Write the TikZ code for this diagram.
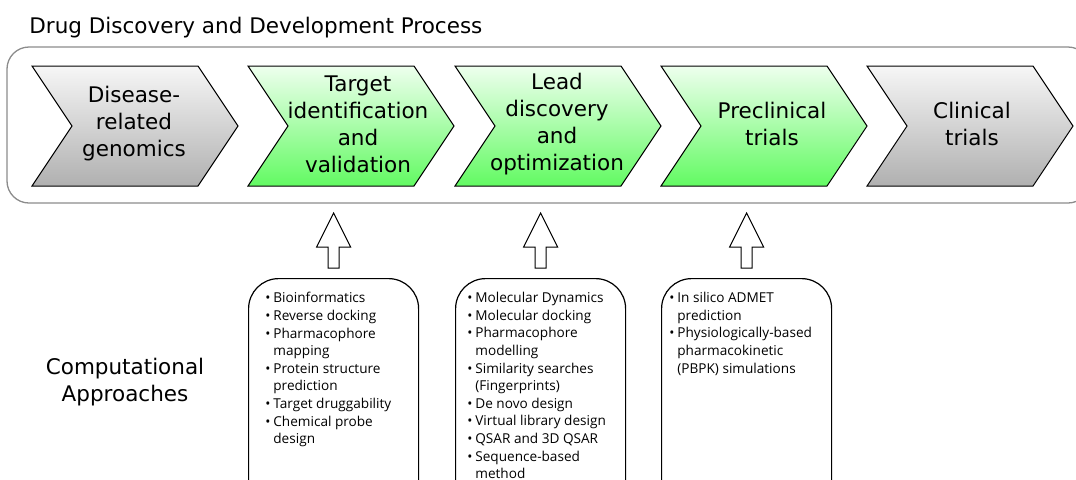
\documentclass[tikz,border=0pt]{standalone}
\usepackage{fontspec}
\setmainfont{DejaVu Sans}
\newfontfamily\apprfont{Open Sans}
\usetikzlibrary{calc}

\definecolor{greentop}{RGB}{238,255,238}
\definecolor{greenbot}{RGB}{98,250,98}
\definecolor{graytop}{RGB}{246,246,246}
\definecolor{graybot}{RGB}{176,176,176}
\definecolor{framegray}{RGB}{140,140,140}

\tikzset{
  stage/.style={draw=black, line width=0.5pt},
  greenstage/.style={stage, top color=greentop, bottom color=greenbot},
  graystage/.style={stage, top color=graytop, bottom color=graybot},
  bigtext/.style={align=center, inner sep=0pt, font=\fontsize{10.75}{13.5}\selectfont},
  apprbox/.style={draw=black, line width=0.6pt, rounded corners=15pt,
    anchor=north west, minimum width=85pt, minimum height=121pt},
  apprtext/.style={align=left, inner sep=0pt, anchor=north west,
    font=\apprfont\fontsize{6.8}{8.8}\selectfont},
  blockarrow/.style={draw=black, line width=0.5pt, fill=white},
}
\newcommand{\bul}{\llap{•\hspace{1.5pt}}}

\begin{document}
\begin{tikzpicture}[x=0.5pt, y=-0.5pt]
  \useasboundingbox (0,0) rectangle (1076,479);

  % process band
  \node[bigtext, anchor=base west] (title) at (29,33) {Drug Discovery and Development Process};
  \draw[framegray, line width=0.65pt, rounded corners=11pt] (7,47) rectangle (1090,203);

  \foreach \x/\s in {32/graystage, 248/greenstage, 455/greenstage, 661/greenstage, 867/graystage}
    \path[\s] (\x,66) -- ++(166,0) -- ++(40,60) -- ++(-40,60) -- ++(-166,0) -- ++(40,-60) -- cycle;

  \node[bigtext] (disease) at (134,124) {Disease-\\related\\genomics};
  \node[bigtext] (target) at (358,124) {Target\\identification\\and\\validation};
  \node[bigtext] (lead) at (557,124) {Lead\\discovery\\and\\optimization};
  \node[bigtext] (preclinical) at (772,124) {Preclinical\\trials};
  \node[bigtext] (clinical) at (972,124) {Clinical\\trials};

  % computational approaches
  \node[bigtext, anchor=north] (comp) at (125,358) {Computational\\Approaches};

  \node[apprbox] (tbox) at (248,278) {};
  \node[apprbox] (lbox) at (455,278) {};
  \node[apprbox] (pbox) at (661,278) {};

  \node[apprtext] (ttext) at (273,292) {\bul Bioinformatics\\\bul Reverse docking\\\bul Pharmacophore\\mapping\\\bul Protein structure\\prediction\\\bul Target druggability\\\bul Chemical probe\\design};
  \node[apprtext] (ltext) at (475,292) {\bul Molecular Dynamics\\\bul Molecular docking\\\bul Pharmacophore\\modelling\\\bul Similarity searches\\(Fingerprints)\\\bul De novo design\\\bul Virtual library design\\\bul QSAR and 3D QSAR\\\bul Sequence-based\\method};
  \node[apprtext] (ptext) at (677,292) {\bul In silico ADMET\\prediction\\\bul Physiologically-based\\pharmacokinetic\\(PBPK) simulations};

  \foreach \b in {tbox, lbox, pbox}
    \draw[blockarrow] ($(\b.north)+(-5.5,-10)$) -- ++(0,-21) -- ++(-11.5,0) -- ++(17,-34)
      -- ++(17,34) -- ++(-11.5,0) -- ++(0,21) -- cycle;
\end{tikzpicture}
\end{document}
